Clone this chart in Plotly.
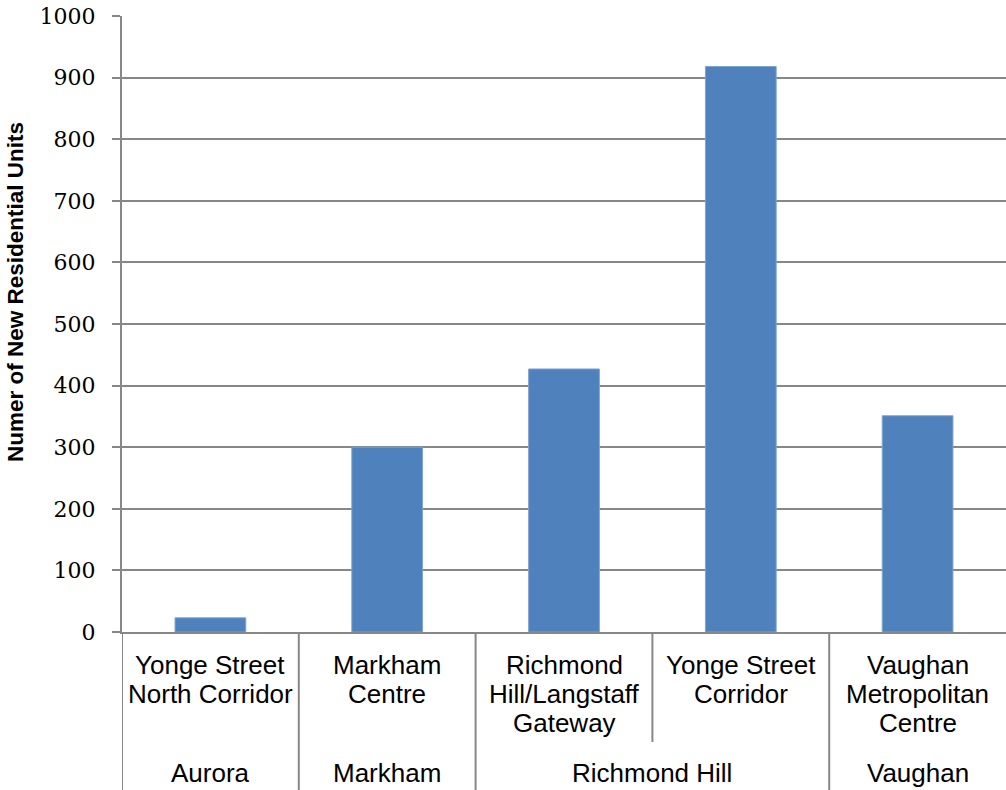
import plotly.graph_objects as go

groups = ["Aurora", "Markham", "Richmond Hill", "Richmond Hill", "Vaughan"]
centres = ["Yonge Street<br>North Corridor", "Markham<br>Centre",
           "Richmond<br>Hill/Langstaff<br>Gateway", "Yonge Street<br>Corridor",
           "Vaughan<br>Metropolitan<br>Centre"]
units = [23, 300, 427, 918, 351]
y_ticks = [0, 100, 200, 300, 400, 500, 600, 700, 800, 900, 1000]
y_title = "Numer of New Residential Units"

BAR = "#4F81BD"
GRID = "#878787"
xs = list(range(len(centres)))

fig = go.Figure()
fig.add_trace(go.Bar(
    x=xs, y=units, width=0.4,
    marker=dict(color=BAR, line=dict(color="#7EA3CF", width=1)),
    hoverinfo="skip", showlegend=False,
))

LABEL_FONT = dict(family="Liberation Sans, Arial", size=26, color="#000000")

annotations = []
# level-1 labels (one annotation per line)
for i, lab in enumerate(centres):
    for j, line in enumerate(lab.split("<br>")):
        annotations.append(dict(
            x=i, xref="x", y=0, yref="paper", yanchor="middle",
            yshift=-(33 + 29 * j), text=line, showarrow=False,
            font=LABEL_FONT,
        ))

# level-2 group labels
spans = []
for i, g in enumerate(groups):
    if spans and spans[-1][0] == g:
        spans[-1][2] = i
    else:
        spans.append([g, i, i])
for g, a, b in spans:
    annotations.append(dict(
        x=(a + b) / 2, xref="x", y=0, yref="paper", yanchor="middle",
        yshift=-141, text=g, showarrow=False,
        font=LABEL_FONT,
    ))

annotations.append(dict(
    x=0, xref="paper", xanchor="center", xshift=-106,
    y=0.552, yref="paper", yanchor="middle", textangle=-90,
    text="<b>" + y_title + "</b>", showarrow=False,
    font=dict(family="Liberation Sans, Arial", size=22.5, color="#000000"),
))

shapes = []
plot_h = 616
for i in range(len(centres)):
    group_start = i == 0 or groups[i] != groups[i - 1]
    depth = 160 if group_start else 110
    shapes.append(dict(
        type="line", xref="x", yref="paper",
        x0=i - 0.5, x1=i - 0.5, y0=0, y1=-depth / plot_h,
        line=dict(color=GRID, width=2),
    ))

fig.update_layout(
    width=1006, height=790,
    margin=dict(l=122, r=0, t=16, b=158),
    paper_bgcolor="white", plot_bgcolor="white",
    bargap=0.6,
    xaxis=dict(
        range=[-0.5, len(centres) - 0.5], showticklabels=False, showgrid=False,
        zeroline=False, showline=True, linecolor=GRID, linewidth=2, ticks="",
        fixedrange=True,
    ),
    yaxis=dict(
        range=[0, 1000], tickvals=y_ticks, ticktext=[str(v) for v in y_ticks],
        showgrid=True, gridcolor=GRID, gridwidth=2,
        showline=True, linecolor=GRID, linewidth=2,
        ticks="outside", ticklen=8, tickcolor=GRID, tickwidth=2,
        ticklabelstandoff=12, zeroline=False,
        tickfont=dict(family="DejaVu Serif", size=22, color="#000000"),
        fixedrange=True,
    ),
    annotations=annotations,
    shapes=shapes,
)

fig.write_html(
    "out.html",
    config={"displayModeBar": False},
    post_script="document.body.style.margin='0';document.body.style.overflow='hidden';",
)
